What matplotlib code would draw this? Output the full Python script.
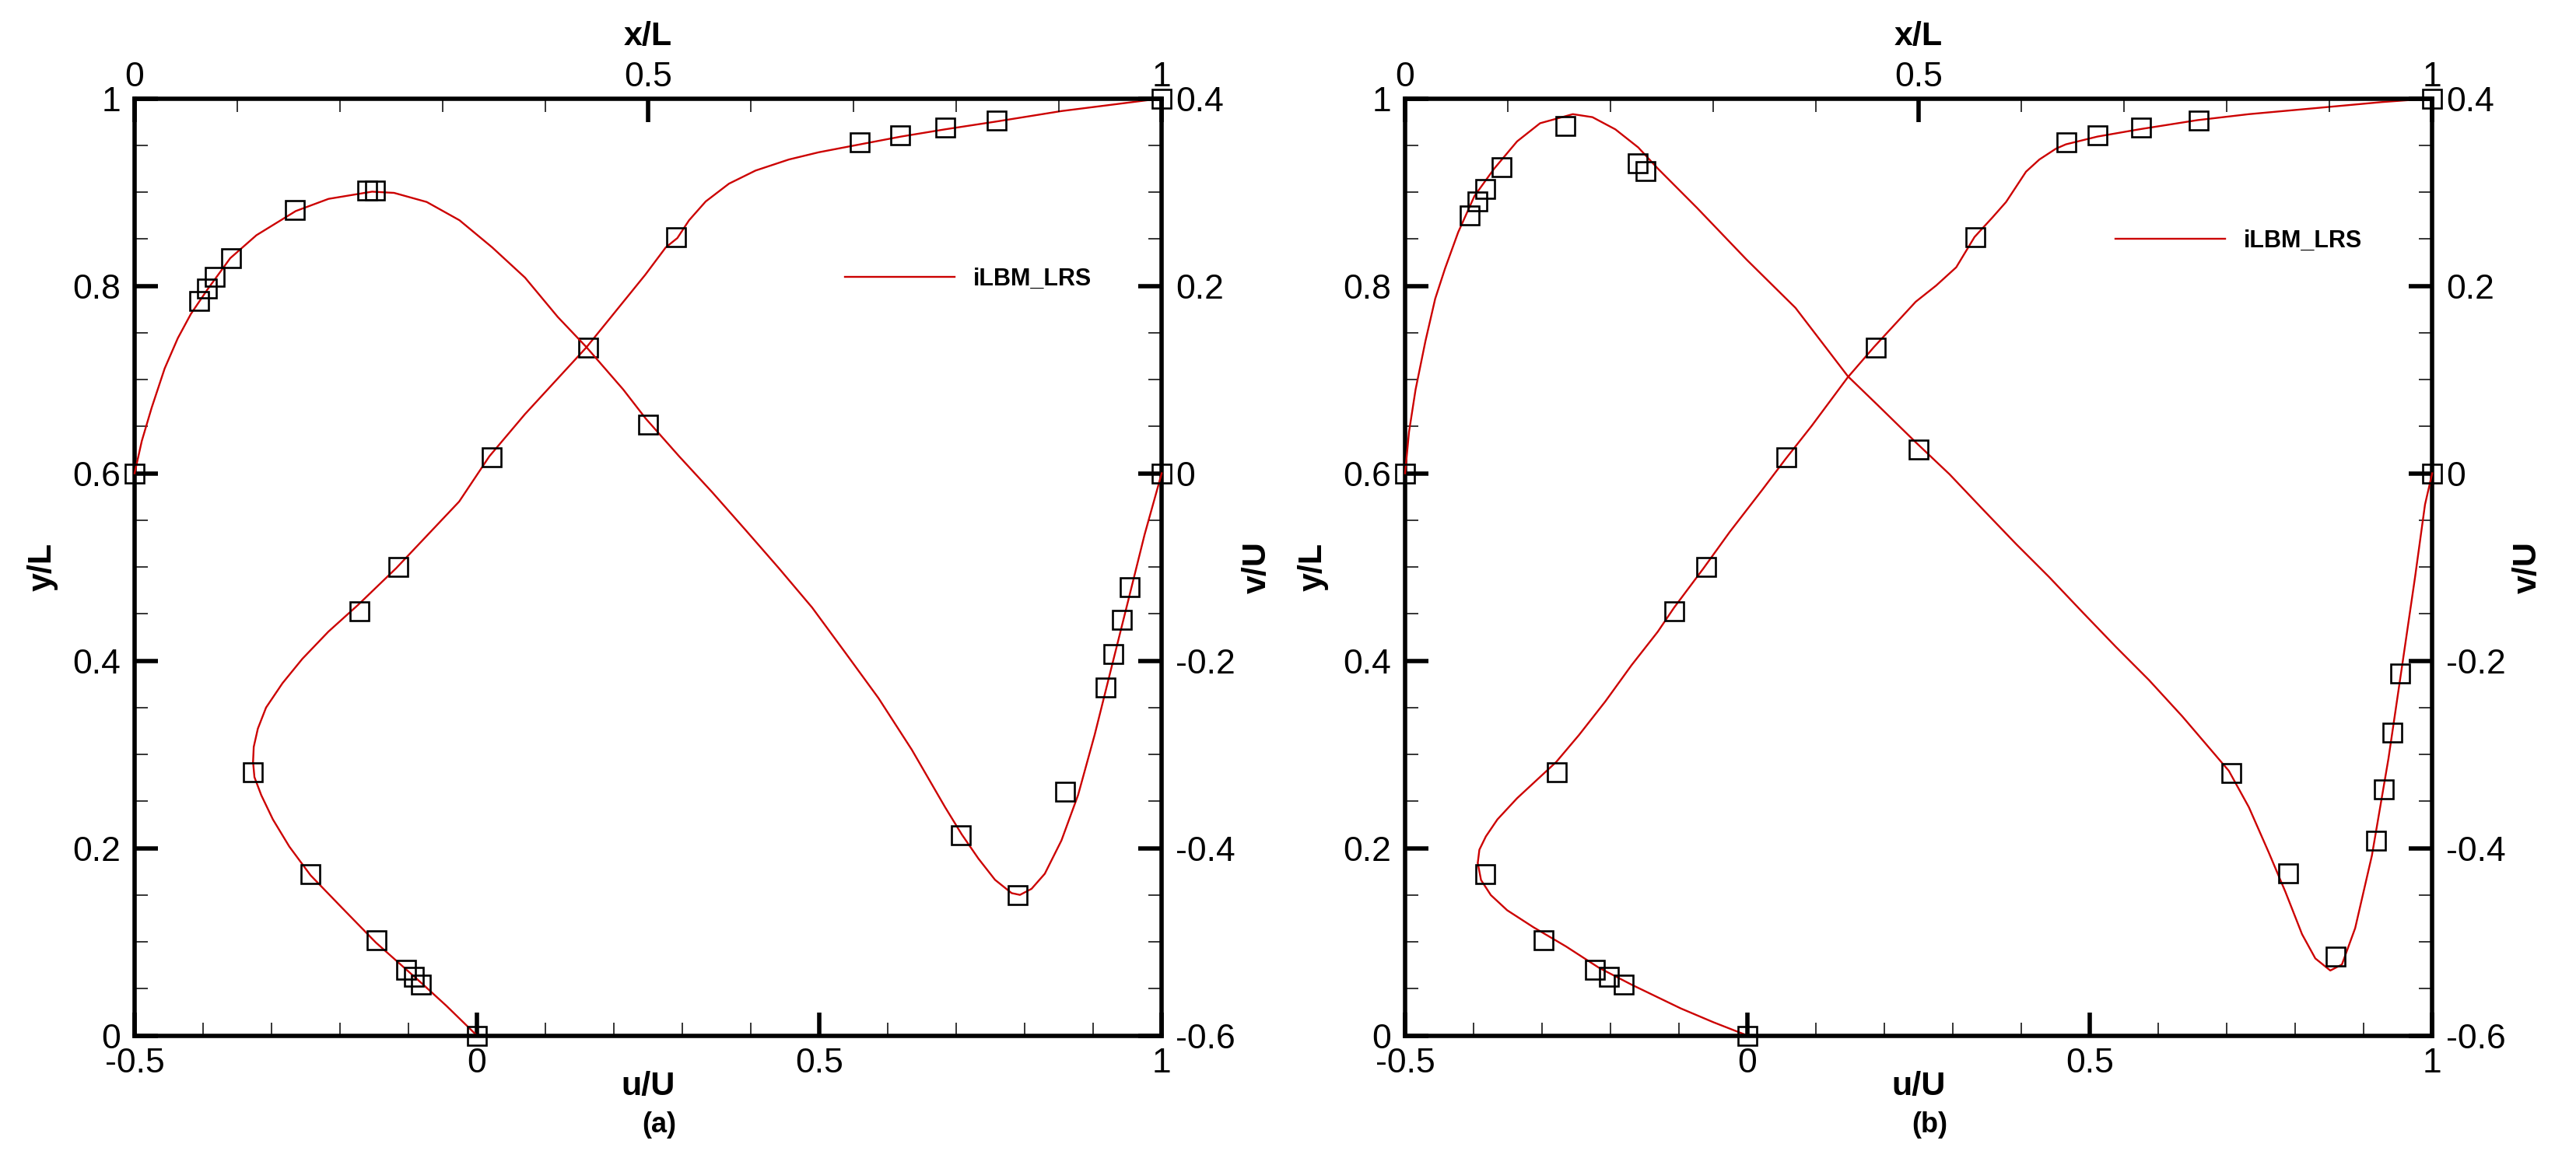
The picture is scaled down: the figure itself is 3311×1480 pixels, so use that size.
"""Lid-driven cavity centreline velocity profiles: iLBM_LRS against Ghia's reference data."""

import matplotlib
matplotlib.use('Agg')
import matplotlib.pyplot as plt
from matplotlib.ticker import MultipleLocator, FuncFormatter

plt.rcParams['font.family'] = ['Liberation Sans', 'DejaVu Sans']
plt.rcParams['axes.unicode_minus'] = False

# Reference points (squares), y/L for u/U and x/L for v/U
y_ref = [1.0, 0.9766, 0.9688, 0.9609, 0.9531, 0.8516, 0.7344, 0.6172, 0.5, 0.4531,
         0.2813, 0.1719, 0.1016, 0.0703, 0.0625, 0.0547, 0.0]
x_ref = [1.0, 0.9688, 0.9609, 0.9531, 0.9453, 0.9063, 0.8594, 0.8047, 0.5, 0.2344,
         0.2266, 0.1563, 0.0938, 0.0781, 0.0703, 0.0625, 0.0]

u_ref_a = [1.0, 0.75837, 0.68439, 0.61756, 0.55892, 0.29093, 0.16256, 0.02135, -0.11477,
           -0.17119, -0.32726, -0.24299, -0.14612, -0.10338, -0.09266, -0.08186, 0.0]
v_ref_a = [0.0, -0.12146, -0.15663, -0.19254, -0.22847, -0.340, -0.44993, -0.38598, 0.05186,
           0.30174, 0.30203, 0.28124, 0.22965, 0.20920, 0.19713, 0.18360, 0.0]

u_ref_b = [1.0, 0.65928, 0.57492, 0.51117, 0.46604, 0.33304, 0.18719, 0.05702, -0.06080,
           -0.10648, -0.27805, -0.38289, -0.29730, -0.22220, -0.20196, -0.18109, 0.0]
v_ref_b = [0.0, -0.21388, -0.27669, -0.33714, -0.39188, -0.51550, -0.42665, -0.31966, 0.02526,
           0.32235, 0.33075, 0.37095, 0.32627, 0.30353, 0.29012, 0.27485, 0.0]

# iLBM_LRS curves, panel (a)
ua_line_u = [0.0, -0.045, -0.081, -0.148, -0.198, -0.243, -0.274, -0.298, -0.315, -0.325,
             -0.327, -0.326, -0.320, -0.308, -0.284, -0.255, -0.217, -0.174, -0.118, -0.026,
             0.018, 0.070, 0.160, 0.246, 0.2757, 0.2927, 0.3098, 0.334, 0.368, 0.4068,
             0.4555, 0.499, 0.5598, 0.6195, 0.6836, 0.759, 0.8536, 1.0]
ua_line_y = [0.0, 0.032, 0.056, 0.0995, 0.137, 0.171, 0.2016, 0.2306, 0.2565, 0.2758,
             0.292, 0.308, 0.3275, 0.350, 0.376, 0.402, 0.431, 0.4593, 0.4987, 0.5698,
             0.618, 0.663, 0.7345, 0.812, 0.841, 0.851, 0.870, 0.890, 0.909, 0.923,
             0.9348, 0.9425, 0.951, 0.9593, 0.967, 0.9754, 0.9865, 1.0]
va_line_x = [0.0, 0.007, 0.0166, 0.0293, 0.0421, 0.0548, 0.0708, 0.0931, 0.1186, 0.1569,
             0.1888, 0.2312, 0.2526, 0.2844, 0.3163, 0.3482, 0.3801, 0.412, 0.440, 0.4758,
             0.4977, 0.530, 0.5625, 0.5948, 0.6272, 0.6596, 0.692, 0.7243, 0.7567, 0.7891,
             0.8053, 0.8215, 0.8377, 0.8539, 0.862, 0.8733, 0.8862, 0.9024, 0.9186, 0.9348,
             0.951, 0.9672, 0.9833, 1.0]
va_line_v = [0.0, 0.0344, 0.0699, 0.1119, 0.1442, 0.170, 0.1959, 0.2295, 0.254, 0.2798,
             0.2928, 0.3005, 0.2992, 0.2895, 0.270, 0.241, 0.2088, 0.1668, 0.1345, 0.0893,
             0.0583, 0.0183, -0.0204, -0.0605, -0.1012, -0.1432, -0.1915, -0.240, -0.295, -0.3563,
             -0.3853, -0.4111, -0.4338, -0.448, -0.4499, -0.4434, -0.4273, -0.3918, -0.3433, -0.2788,
             -0.2077, -0.1367, -0.0656, 0.0]

# iLBM_LRS curves, panel (b)
ub_line_u = [0.0, -0.0497, -0.0975, -0.1692, -0.217, -0.2648, -0.3126, -0.3509, -0.3748, -0.3891,
             -0.3939, -0.3915, -0.382, -0.3652, -0.3365, -0.3031, -0.2792, -0.2457, -0.2075, -0.1692,
             -0.131, -0.1071, -0.0641, -0.0258, 0.022, 0.0554, 0.0937, 0.1463, 0.1845, 0.2457,
             0.2757, 0.3049, 0.3316, 0.3583, 0.3777, 0.3923, 0.4068, 0.4263, 0.4506, 0.4651,
             0.5113, 0.5719, 0.657, 0.7323, 0.8293, 0.9265, 1.0]
ub_line_y = [0.0, 0.0142, 0.029, 0.0543, 0.0724, 0.095, 0.1156, 0.1337, 0.1499, 0.166,
             0.1841, 0.1983, 0.2125, 0.2306, 0.2532, 0.2758, 0.292, 0.321, 0.3566, 0.3953,
             0.4309, 0.4567, 0.4987, 0.5375, 0.5827, 0.615, 0.6505, 0.7022, 0.7345, 0.783,
             0.8004, 0.8198, 0.8521, 0.8734, 0.8895, 0.9057, 0.9218, 0.9348, 0.9464, 0.951,
             0.9593, 0.967, 0.9768, 0.9832, 0.9896, 0.9961, 1.0]
vb_line_x = [0.0, 0.0038, 0.0102, 0.0198, 0.0293, 0.0389, 0.0517, 0.0676, 0.0867, 0.109,
             0.1314, 0.1633, 0.1824, 0.2047, 0.227, 0.2462, 0.2844, 0.3323, 0.3801, 0.4311,
             0.4598, 0.4977, 0.5301, 0.5625, 0.5948, 0.6272, 0.6596, 0.692, 0.7243, 0.7567,
             0.7794, 0.802, 0.8215, 0.8409, 0.8571, 0.8733, 0.8862, 0.9008, 0.9121, 0.925,
             0.9413, 0.9574, 0.9704, 0.9833, 0.993, 1.0]
vb_line_v = [0.0, 0.044, 0.0893, 0.141, 0.1862, 0.2185, 0.2572, 0.296, 0.325, 0.3541,
             0.3735, 0.3832, 0.38, 0.367, 0.3477, 0.325, 0.283, 0.2282, 0.1765, 0.1035,
             0.0731, 0.0325, -0.0011, -0.0385, -0.0754, -0.1109, -0.1483, -0.1852, -0.2207, -0.2594,
             -0.2885, -0.3175, -0.3563, -0.4047, -0.4467, -0.4919, -0.5177, -0.5306, -0.5242, -0.4854,
             -0.4079, -0.3046, -0.2077, -0.1109, -0.0334, 0.0]

RED = '#cc0000'
TICK_SIZE = 32
LABEL_SIZE = 31
MARKER = dict(ls='none', marker='s', ms=17, mfc='none', mec='k', mew=1.9, clip_on=False, zorder=3)


def tick_fmt(val, pos):
    """Tecplot style labels: 0, 0.5, 1, -0.6 ..."""
    return '{:g}'.format(round(val, 6) + 0.0)


def style_axis(axis, major, minor):
    axis.set_major_locator(MultipleLocator(major))
    axis.set_minor_locator(MultipleLocator(minor))
    axis.set_major_formatter(FuncFormatter(tick_fmt))


def plot_panel(fig, left, tag, tag_x, u_ref, v_ref, u_line, y_line, x_line, v_line, legend_y):
    rect = [left, 0.1003, 0.3986, 0.8142]

    # Bottom/left axes: u/U against y/L
    ax = fig.add_axes(rect, label=tag + 'u')
    ax.plot(u_line, y_line, color=RED, lw=1.7, clip_on=False, label='iLBM_LRS')
    ax.plot(u_ref, y_ref, **MARKER)
    ax.set_xlim(-0.5, 1)
    ax.set_ylim(0, 1)
    style_axis(ax.xaxis, 0.5, 0.1)
    style_axis(ax.yaxis, 0.2, 0.05)
    for s in ax.spines.values():
        s.set_linewidth(4)
    ax.tick_params(which='both', direction='in', top=False, right=False, labelsize=TICK_SIZE)
    ax.tick_params(which='major', length=21.6, width=4)
    ax.tick_params(which='minor', length=12.5, width=1.1)
    ax.tick_params(axis='x', pad=11)
    ax.tick_params(axis='y', pad=13)

    ax.set_xlabel('u/U', fontsize=LABEL_SIZE, fontweight='bold')
    ax.xaxis.set_label_coords(0.5, -0.0378)
    ax.set_ylabel('y/L', fontsize=LABEL_SIZE, fontweight='bold')
    ax.yaxis.label.set_va('center')
    ax.yaxis.set_label_coords(-0.0894, 0.5)

    # Top/right axes: x/L against v/U
    ax2 = fig.add_axes(rect, label=tag + 'v', frameon=False)
    ax2.plot(x_line, v_line, color=RED, lw=1.7, clip_on=False)
    ax2.plot(x_ref, v_ref, **MARKER)
    ax2.set_xlim(0, 1)
    ax2.set_ylim(-0.6, 0.4)
    ax2.xaxis.tick_top()
    ax2.yaxis.tick_right()
    style_axis(ax2.xaxis, 0.5, 0.1)
    style_axis(ax2.yaxis, 0.2, 0.05)
    ax2.tick_params(which='both', direction='in', bottom=False, left=False, labelsize=TICK_SIZE)
    ax2.tick_params(which='major', length=21.6, width=4)
    ax2.tick_params(which='minor', length=12.5, width=1.1)
    ax2.tick_params(axis='x', pad=5)
    ax2.tick_params(axis='y', pad=13)

    ax2.xaxis.set_label_position('top')
    ax2.set_xlabel('x/L', fontsize=LABEL_SIZE, fontweight='bold')
    ax2.xaxis.label.set_va('center')
    ax2.xaxis.set_label_coords(0.5, 1.066)
    ax2.yaxis.set_label_position('right')
    ax2.set_ylabel('v/U', fontsize=LABEL_SIZE, fontweight='bold', rotation=90)
    ax2.yaxis.label.set_va('center')
    ax2.yaxis.set_label_coords(1.0932, 0.5)

    # Legend for the simulation curve only
    handles, labels = ax.get_legend_handles_labels()
    ax2.legend(handles, labels, loc='center left', bbox_to_anchor=(0.6917, legend_y),
               frameon=False, borderpad=0, borderaxespad=0, handlelength=4.6,
               handletextpad=0.8, prop={'size': 22, 'weight': 'bold'})

    fig.text(tag_x, 1 - 1446 / 1480, '(' + tag + ')', ha='center', va='center',
             fontsize=26, fontweight='bold')


fig = plt.figure(figsize=(33.12, 14.8), dpi=100)
plot_panel(fig, 173 / 3312, 'a', 847 / 3312, u_ref_a, v_ref_a,
           ua_line_u, ua_line_y, va_line_x, va_line_v, 0.8075)
plot_panel(fig, 1806 / 3312, 'b', 2480 / 3312, u_ref_b, v_ref_b,
           ub_line_u, ub_line_y, vb_line_x, vb_line_v, 0.848)

fig.savefig('out.png', dpi=100)
